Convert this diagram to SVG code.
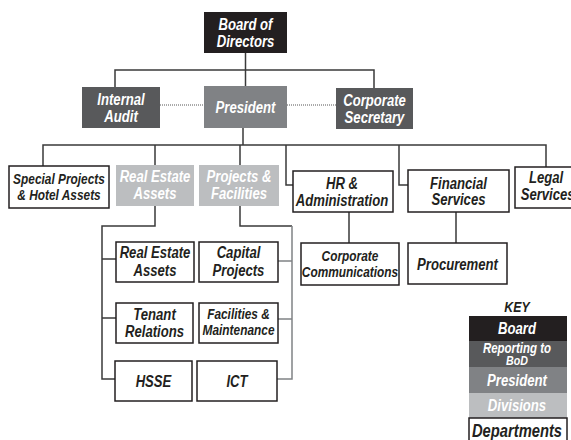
<svg xmlns="http://www.w3.org/2000/svg" width="571" height="440" viewBox="0 0 571 440">
  <style>
    text { font-family: "Liberation Sans", Arial, sans-serif; font-weight: bold; font-style: italic; font-size: 16px; text-anchor: middle; }
    .w { fill: #ffffff; }
    .k { fill: #231f20; }
    .board { fill: #231f20; }
    .bod { fill: #58595b; }
    .pres { fill: #808285; }
    .div { fill: #bcbec0; }
    .dept { fill: #ffffff; stroke: #231f20; stroke-width: 1.5; }
    .ln { fill: none; stroke: #3a3a3a; stroke-width: 1.5; }
    .lg { fill: none; stroke: #808285; stroke-width: 1.5; }
    .dot { fill: none; stroke: #555555; stroke-width: 1; stroke-dasharray: 1 1; }
  </style>

  <!-- connectors -->
  <g id="connectors">
    <path class="ln" d="M245.5 53 V86"/>
    <path class="ln" d="M115 87 V70 H374 V88"/>
    <path class="dot" d="M160 105 H204 M287 105 H336"/>
    <path class="ln" d="M243 128 V145"/>
    <path class="ln" d="M43 166 V145 H546 V167"/>
    <path class="ln" d="M155 145 V165 M240 145 V165"/>
    <path class="ln" d="M286 145 V185 H293 M399 145 V185 H408"/>
    <path class="ln" d="M349 212 V243 M456 212 V243"/>
    <path class="ln" d="M155 206 V226 H102 V379 H115 M102 259 H116 M102 318 H116"/>
    <path class="ln" d="M240 206 V226 H292"/>
    <path class="lg" d="M292 226 V379 H277 M292 261 H278 M292 319 H278"/>
  </g>

  <!-- labels use a horizontally condensed face: each label group is
       shifted to the box centre and squeezed to 82% width -->
  <g id="board">
    <rect class="board" x="204" y="12" width="83" height="41"/>
    <g transform="matrix(.82 0 0 1 245.5 0)">
      <text class="w" y="30.5">Board of</text>
      <text class="w" y="47.5">Directors</text>
    </g>
  </g>
  <g id="internal-audit">
    <rect class="bod" x="82" y="87" width="78" height="41"/>
    <g transform="matrix(.82 0 0 1 121 0)">
      <text class="w" y="105.5">Internal</text>
      <text class="w" y="122.5">Audit</text>
    </g>
  </g>
  <g id="president">
    <rect class="pres" x="204" y="86" width="83" height="42"/>
    <g transform="matrix(.82 0 0 1 245.5 0)">
      <text class="w" y="113">President</text>
    </g>
  </g>
  <g id="corporate-secretary">
    <rect class="bod" x="336" y="88" width="77" height="41"/>
    <g transform="matrix(.82 0 0 1 374.5 0)">
      <text class="w" y="106.5">Corporate</text>
      <text class="w" y="123.5">Secretary</text>
    </g>
  </g>

  <g id="special-projects">
    <rect class="dept" x="9" y="166" width="100" height="42"/>
    <g transform="matrix(.82 0 0 1 59 0)">
      <text class="k" y="184" style="font-size:14.5px">Special Projects</text>
      <text class="k" y="200.5" style="font-size:14.5px">&amp; Hotel Assets</text>
    </g>
  </g>
  <g id="real-estate-division">
    <rect class="div" x="116" y="165" width="78" height="41"/>
    <g transform="matrix(.82 0 0 1 155 0)">
      <text class="w" y="182.5">Real Estate</text>
      <text class="w" y="199.5">Assets</text>
    </g>
  </g>
  <g id="projects-facilities">
    <rect class="div" x="199" y="165" width="80" height="41"/>
    <g transform="matrix(.82 0 0 1 239 0)">
      <text class="w" y="182.5">Projects &amp;</text>
      <text class="w" y="199.5">Facilities</text>
    </g>
  </g>
  <g id="hr-administration">
    <rect class="dept" x="293" y="171" width="100" height="41"/>
    <g transform="matrix(.82 0 0 1 342 0)">
      <text class="k" y="189">HR &amp;</text>
      <text class="k" y="206">Administration</text>
    </g>
  </g>
  <g id="financial-services">
    <rect class="dept" x="408" y="170" width="101" height="42"/>
    <g transform="matrix(.82 0 0 1 458.5 0)">
      <text class="k" y="189">Financial</text>
      <text class="k" y="205.5">Services</text>
    </g>
  </g>
  <g id="legal-services">
    <rect class="dept" x="515" y="167" width="64" height="41"/>
    <g transform="matrix(.82 0 0 1 546 0)">
      <text class="k" y="183.5">Legal</text>
      <text class="k" x="2" y="200">Services</text>
    </g>
  </g>

  <g id="corporate-communications">
    <rect class="dept" x="301" y="243" width="98" height="42"/>
    <g transform="matrix(.82 0 0 1 350 0)">
      <text class="k" y="261" style="font-size:14.5px">Corporate</text>
      <text class="k" y="277" style="font-size:14.5px">Communications</text>
    </g>
  </g>
  <g id="procurement">
    <rect class="dept" x="408" y="243" width="99" height="41"/>
    <g transform="matrix(.82 0 0 1 457.5 0)">
      <text class="k" y="270">Procurement</text>
    </g>
  </g>

  <g id="real-estate-assets">
    <rect class="dept" x="116" y="242" width="78" height="40"/>
    <g transform="matrix(.82 0 0 1 155 0)">
      <text class="k" y="258.5">Real Estate</text>
      <text class="k" y="276">Assets</text>
    </g>
  </g>
  <g id="capital-projects">
    <rect class="dept" x="199" y="242" width="79" height="40"/>
    <g transform="matrix(.82 0 0 1 238.5 0)">
      <text class="k" y="258.5">Capital</text>
      <text class="k" y="276">Projects</text>
    </g>
  </g>
  <g id="tenant-relations">
    <rect class="dept" x="116" y="303" width="77" height="40"/>
    <g transform="matrix(.82 0 0 1 154.5 0)">
      <text class="k" y="320">Tenant</text>
      <text class="k" y="337">Relations</text>
    </g>
  </g>
  <g id="facilities-maintenance">
    <rect class="dept" x="199" y="303" width="79" height="40"/>
    <g transform="matrix(.82 0 0 1 238.5 0)">
      <text class="k" y="319" style="font-size:14.5px">Facilities &amp;</text>
      <text class="k" y="335" style="font-size:14.5px">Maintenance</text>
    </g>
  </g>
  <g id="hsse">
    <rect class="dept" x="115" y="361" width="77" height="40"/>
    <g transform="matrix(.82 0 0 1 153.5 0)">
      <text class="k" y="387">HSSE</text>
    </g>
  </g>
  <g id="ict">
    <rect class="dept" x="197" y="361" width="80" height="40"/>
    <g transform="matrix(.82 0 0 1 237 0)">
      <text class="k" y="387">ICT</text>
    </g>
  </g>

  <!-- legend -->
  <g id="key">
    <rect class="board" x="469" y="316" width="98" height="25"/>
    <rect class="bod" x="469" y="341" width="98" height="26"/>
    <rect class="pres" x="469" y="367" width="98" height="26"/>
    <rect class="div" x="469" y="393" width="98" height="25"/>
    <rect class="dept" x="469" y="418" width="98" height="30"/>
    <g transform="matrix(.82 0 0 1 517 0)">
      <text class="k" y="312" style="font-size:15px">KEY</text>
      <text class="w" y="334">Board</text>
      <text class="w" y="353.5" style="font-size:14px">Reporting to</text>
      <text class="w" y="365" style="font-size:13px">BoD</text>
      <text class="w" y="386">President</text>
      <text class="w" y="411">Divisions</text>
      <text class="k" y="437" style="font-size:18px">Departments</text>
    </g>
  </g>
</svg>
